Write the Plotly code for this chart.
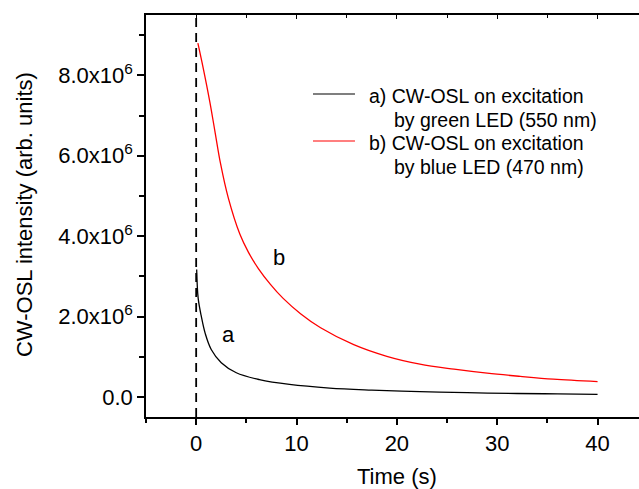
import plotly.graph_objects as go

# ---- data ----
time_a = [0.05, 0.2, 0.5, 0.9, 1.5, 2.5, 4.0, 6.3, 9.3, 13.3, 17.5, 22.3, 27.0, 32.0, 36.0, 40.0]
osl_a = [3.17e6, 2.45e6, 2.02e6, 1.58e6, 1.18e6, 0.85e6, 0.60e6, 0.43e6, 0.31e6, 0.22e6,
         0.17e6, 0.13e6, 0.105e6, 0.085e6, 0.075e6, 0.065e6]

time_b = [0.17, 0.7, 1.36, 1.86, 2.43, 3.2, 4.35, 5.2, 6.18, 7.4, 8.67, 10.4, 12.4, 15.7, 19.0, 22.3,
          25.7, 29.0, 32.3, 35.6, 40.0]
osl_b = [8.80e6, 8.18e6, 7.34e6, 6.62e6, 5.80e6, 4.95e6, 4.05e6, 3.60e6, 3.20e6, 2.80e6, 2.45e6,
         2.07e6, 1.72e6, 1.30e6, 1.01e6, 0.815e6, 0.69e6, 0.59e6, 0.51e6, 0.44e6, 0.38e6]

y_tickvals = [0, 2e6, 4e6, 6e6, 8e6]
y_ticktext = ["0.0", "2.0x10<sup>6</sup>", "4.0x10<sup>6</sup>", "6.0x10<sup>6</sup>", "8.0x10<sup>6</sup>"]
x_tickvals = [0, 10, 20, 30, 40]

legend_a = ["a) CW-OSL on excitation", "by green LED (550 nm)"]
legend_b = ["b) CW-OSL on excitation", "by blue LED (470 nm)"]

FONT = "Liberation Sans, Arial, sans-serif"

fig = go.Figure()
fig.add_trace(go.Scatter(x=time_a, y=osl_a, mode="lines", line=dict(color="black", width=1.3, shape="spline", smoothing=1.0),
                         showlegend=False, name="a"))
fig.add_trace(go.Scatter(x=time_b, y=osl_b, mode="lines", line=dict(color="#ff0000", width=1.3, shape="spline", smoothing=1.0),
                         showlegend=False, name="b"))
# invisible trace for the top mirror axis
fig.add_trace(go.Scatter(x=[0], y=[0], xaxis="x2", mode="markers", marker=dict(opacity=0),
                         showlegend=False, hoverinfo="skip"))

# dashed line at t = 0
fig.add_shape(type="line", xref="x", yref="paper", x0=0, x1=0, y0=0, y1=1,
              line=dict(color="black", width=1.8, dash="9px,6px"))

# manual legend
fig.add_shape(type="line", xref="paper", yref="paper", x0=0.3387, x1=0.4239, y0=0.8035, y1=0.8035,
              line=dict(color="black", width=1.2))
fig.add_shape(type="line", xref="paper", yref="paper", x0=0.3387, x1=0.4239, y0=0.6866, y1=0.6866,
              line=dict(color="#ff0000", width=1.2))

ann = []
for txt, x, y in [(legend_a[0], 0.4483, 0.7985), (legend_a[1], 0.4984, 0.7388),
                  (legend_b[0], 0.4483, 0.6816), (legend_b[1], 0.4984, 0.6219)]:
    ann.append(dict(text=txt, xref="paper", yref="paper", x=x, y=y, xanchor="left", yanchor="middle",
                    showarrow=False, font=dict(family=FONT, size=19.5, color="black")))
ann.append(dict(text="a", xref="x", yref="y", x=3.26, y=1.55e6, showarrow=False,
                font=dict(family=FONT, size=22, color="black")))
ann.append(dict(text="b", xref="x", yref="y", x=8.24, y=3.47e6, showarrow=False,
                font=dict(family=FONT, size=22, color="black")))
ann.append(dict(text="Time (s)", xref="x", yref="paper", x=20, y=-0.149, xanchor="center", yanchor="middle",
                showarrow=False, font=dict(family=FONT, size=22, color="black")))
ann.append(dict(text="CW-OSL intensity (arb. units)", xref="paper", yref="paper", x=-0.2454, y=0.5025,
                xanchor="center", yanchor="middle", textangle=-90, showarrow=False,
                font=dict(family=FONT, size=22, color="black")))

fig.update_layout(
    width=639, height=489,
    margin=dict(l=146, r=0, t=15, b=72, pad=0),
    paper_bgcolor="white", plot_bgcolor="white",
    font=dict(family=FONT, size=22, color="black"),
    annotations=ann,
    xaxis=dict(range=[-5, 44.13], tickvals=x_tickvals, ticks="outside", ticklen=6, tickwidth=1.5,
               tickcolor="black", showline=True, linecolor="black", linewidth=1.5, showgrid=False,
               zeroline=False, tickfont=dict(family=FONT, size=22, color="black"),
               minor=dict(tickmode="linear", tick0=0, dtick=5, ticks="outside", ticklen=4,
                          tickwidth=1.5, tickcolor="black", showgrid=False)),
    xaxis2=dict(overlaying="x", side="top", matches="x", range=[-5, 44.13], tickvals=x_tickvals,
                ticks="inside", ticklen=4, tickwidth=1.2, tickcolor="black", showline=True,
                linecolor="black", linewidth=1.5, showgrid=False, zeroline=False, showticklabels=False,
                minor=dict(tickmode="linear", tick0=0, dtick=5, ticks="inside", ticklen=3,
                           tickwidth=1.2, tickcolor="black", showgrid=False)),
    yaxis=dict(range=[-0.5e6, 9.5e6], tickvals=y_tickvals, ticktext=y_ticktext, ticks="outside",
               ticklen=7, tickwidth=1.5, tickcolor="black", showline=True, linecolor="black",
               linewidth=1.5, showgrid=False, zeroline=False,
               tickfont=dict(family=FONT, size=22, color="black"),
               minor=dict(tickmode="linear", tick0=0, dtick=1e6, ticks="outside", ticklen=5,
                          tickwidth=1.5, tickcolor="black", showgrid=False)),
)

fig.write_html("out.html")
